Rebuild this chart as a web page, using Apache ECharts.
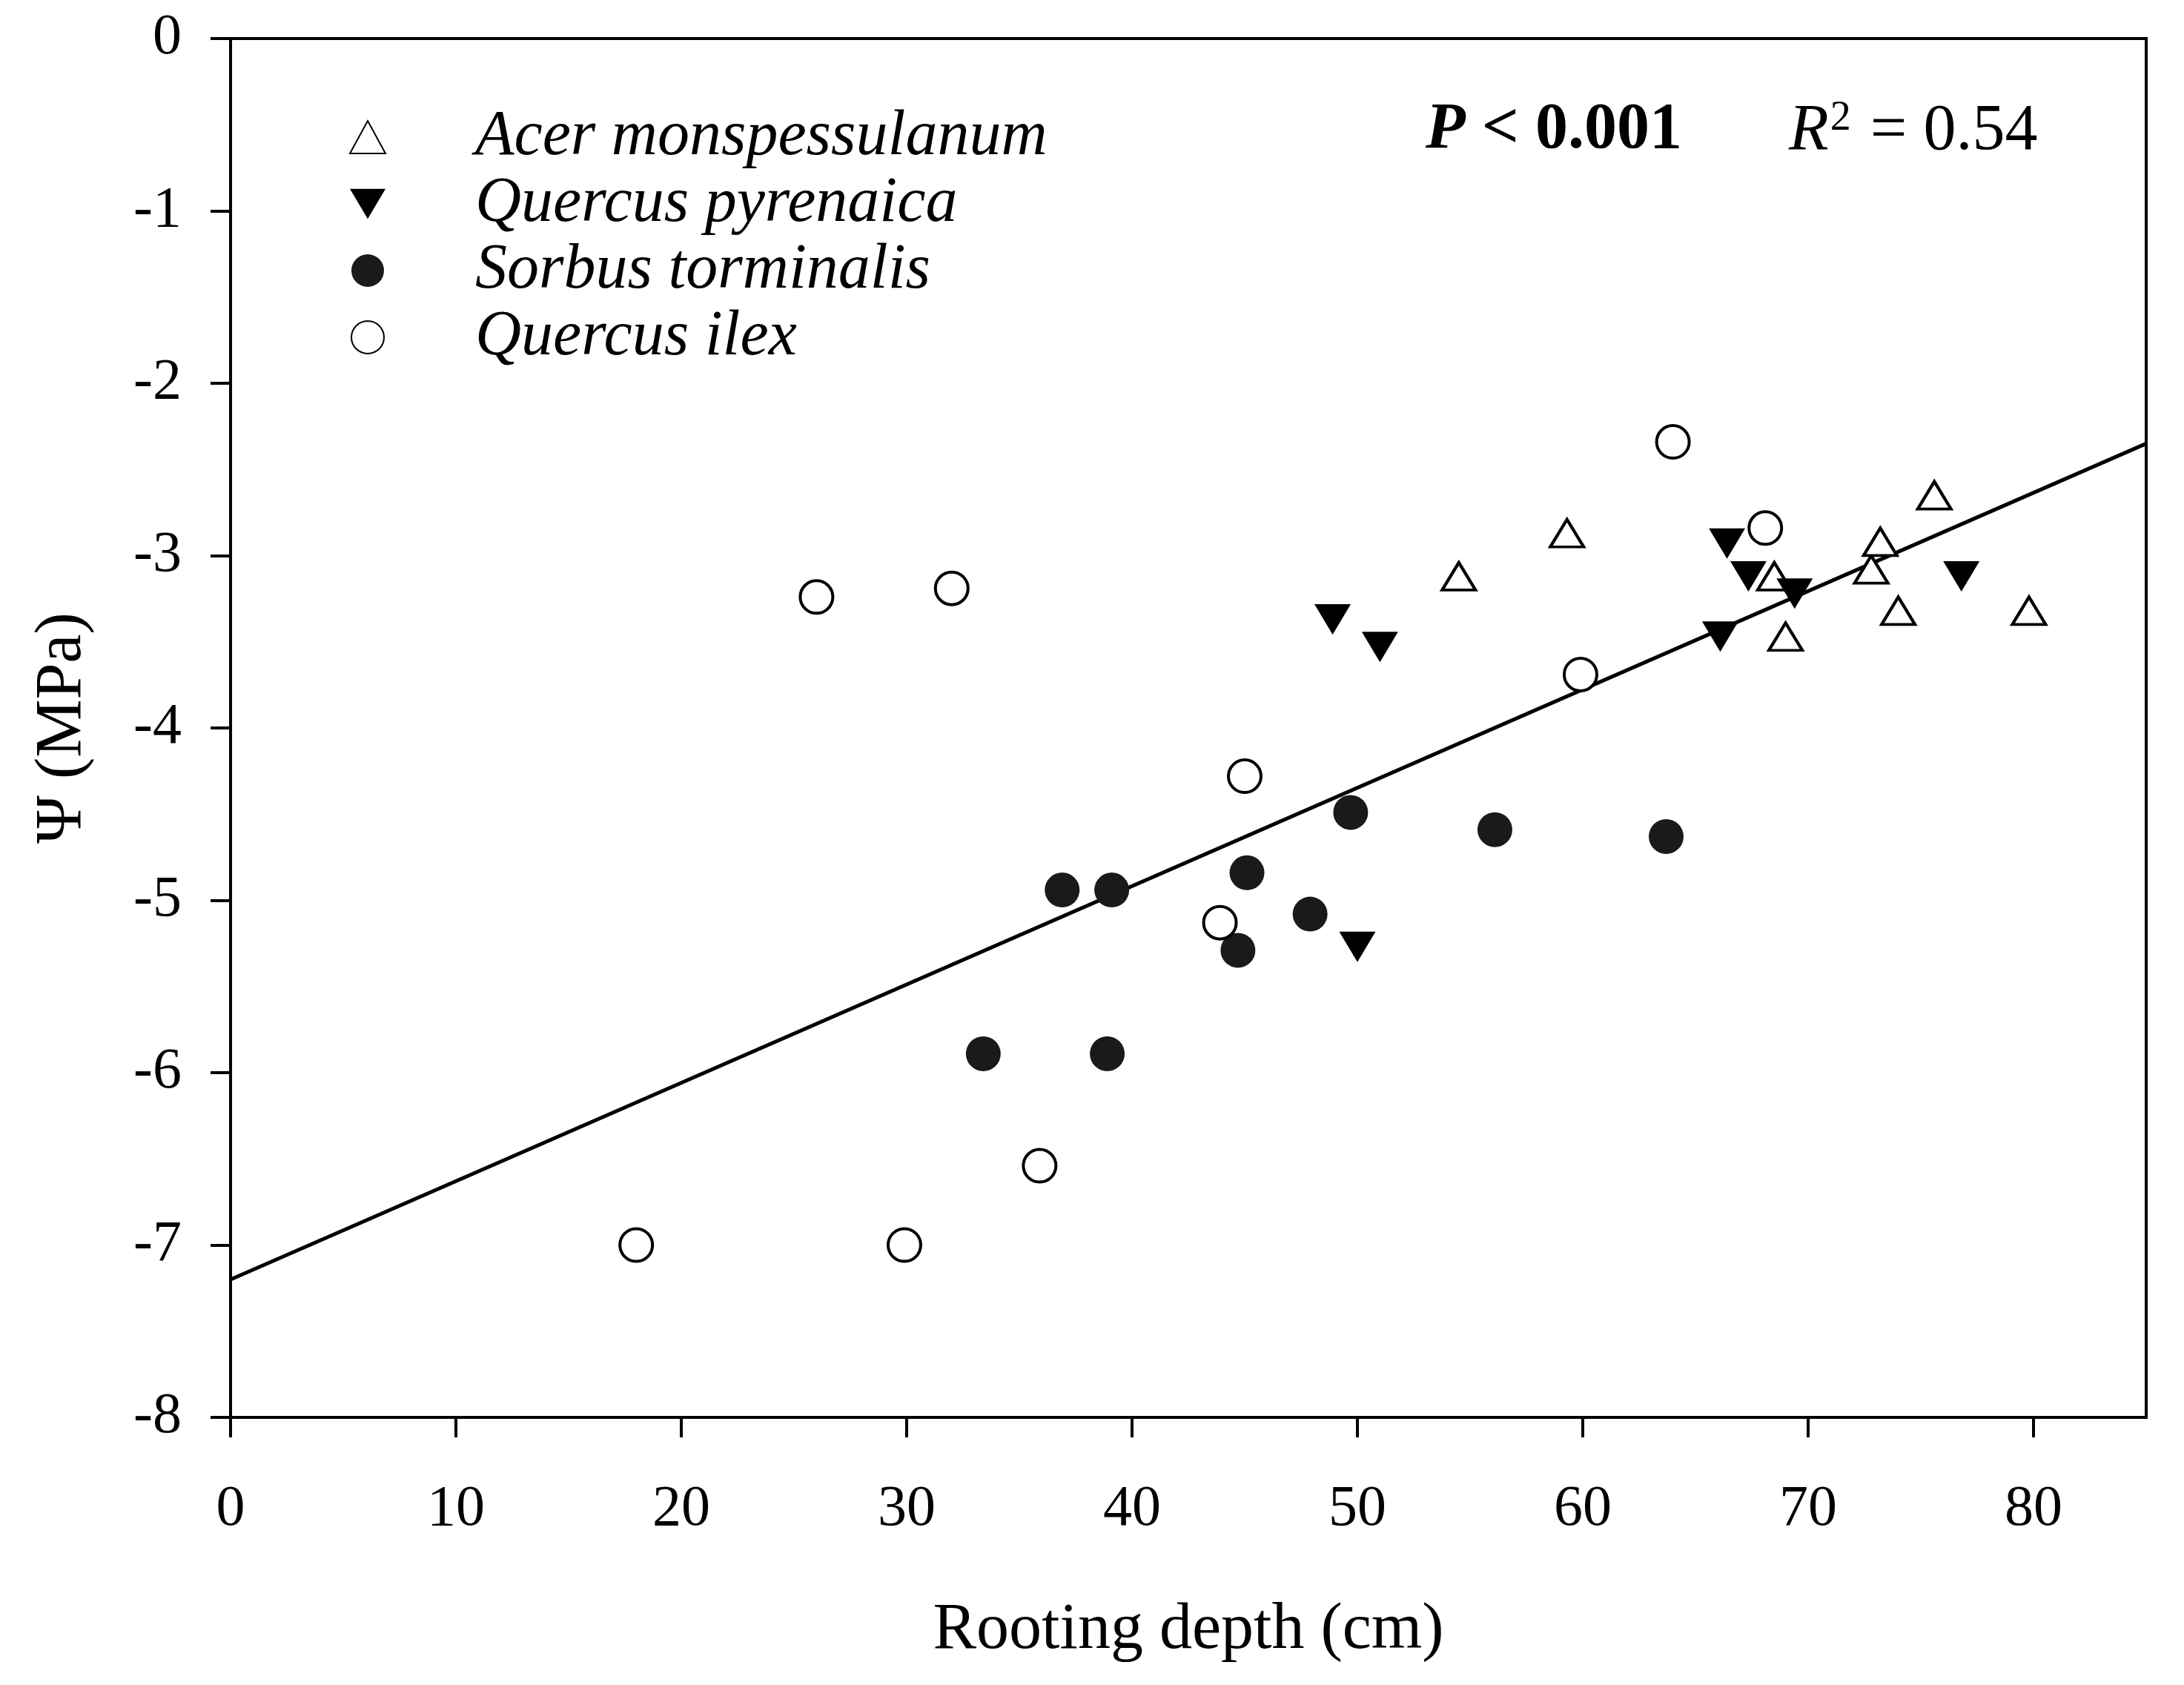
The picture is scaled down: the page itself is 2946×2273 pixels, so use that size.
<!DOCTYPE html>
<html>
<head>
	<meta charset="utf-8">
	<title>Rooting depth vs water potential</title>
	<script src="https://cdn.jsdelivr.net/npm/echarts@6/dist/echarts.min.js"></script>
	<style>
		html, body { margin: 0; padding: 0; background: #fff; }
	</style>
</head>
<body>
	<div id="chart" style="width: 2946px;height:2273px;"></div>
	<script type="text/javascript">
		// values: rooting depth (cm) and water potential (MPa)
		var speciesNames = ['Acer monspessulanum', 'Quercus pyrenaica', 'Sorbus torminalis', 'Quercus ilex'];

		var acerDepth = [54.5, 59.3, 68.5, 69.0, 72.8, 73.2, 74.0, 75.6, 79.8];
		var acerPsi   = [-3.12, -2.87, -3.12, -3.47, -3.08, -2.92, -3.32, -2.65, -3.32];

		var pyrDepth = [48.9, 51.0, 50.0, 66.4, 67.35, 69.4, 66.1, 76.8];
		var pyrPsi   = [-3.37, -3.53, -5.27, -2.93, -3.12, -3.22, -3.47, -3.12];

		var sorbDepth = [36.9, 39.1, 33.4, 38.9, 44.7, 45.1, 47.9, 49.7, 56.1, 63.7];
		var sorbPsi   = [-4.94, -4.94, -5.89, -5.89, -5.29, -4.84, -5.08, -4.49, -4.59, -4.63];

		var ilexDepth = [18.0, 29.9, 35.9, 26.0, 32.0, 45.0, 43.9, 59.9, 64.0, 68.1];
		var ilexPsi   = [-7.0, -7.0, -6.54, -3.24, -3.19, -4.28, -5.13, -3.69, -2.34, -2.84];

		// fitted regression line, end points
		var fitLine = [[0, -7.2], [85, -2.35]];

		var xTicks = [0, 10, 20, 30, 40, 50, 60, 70, 80];

		function zip(xs, ys) {
			var out = [];
			for (var i = 0; i < xs.length; i++) {
				out.push([xs[i], ys[i]]);
			}
			return out;
		}

		var font = 'Liberation Serif, Times New Roman, serif';
		var downTri = 'path://M0,0 L10,0 L5,8.4 Z';

		var myChart = echarts.init(document.getElementById('chart'));

		var option = {
			backgroundColor: '#fff',
			animation: false,
			grid: {
				left: 311,
				right: 51,
				top: 52,
				bottom: 361,
				show: true,
				borderColor: '#000',
				borderWidth: 4,
				backgroundColor: 'transparent'
			},
			legend: {
				data: speciesNames,
				orient: 'vertical',
				left: 466,
				top: 136,
				itemWidth: 48,
				itemHeight: 44,
				itemGap: 2,
				selectedMode: false,
				textStyle: {
					fontFamily: font,
					fontStyle: 'italic',
					fontSize: 86,
					lineHeight: 88,
					color: '#000',
					padding: [0, 0, 0, 116]
				}
			},
			xAxis: {
				type: 'value',
				min: 0,
				max: 85,
				interval: 10,
				name: 'Rooting depth (cm)',
				nameLocation: 'middle',
				nameGap: 244,
				nameTextStyle: { fontFamily: font, fontSize: 88, color: '#000' },
				splitLine: { show: false },
				axisLine: { onZero: false, lineStyle: { color: '#000', width: 4 } },
				axisTick: {
					show: true,
					inside: false,
					length: 27,
					customValues: xTicks,
					lineStyle: { color: '#000', width: 4 }
				},
				axisLabel: {
					customValues: xTicks,
					margin: 86,
					fontFamily: font,
					fontSize: 78,
					color: '#000'
				}
			},
			yAxis: {
				type: 'value',
				min: -8,
				max: 0,
				interval: 1,
				name: 'Ψ (MPa)',
				nameLocation: 'middle',
				nameRotate: 90,
				nameGap: 182,
				nameTextStyle: { fontFamily: font, fontSize: 88, color: '#000' },
				splitLine: { show: false },
				axisLine: { show: true, onZero: false, lineStyle: { color: '#000', width: 4 } },
				axisTick: {
					show: true,
					inside: false,
					length: 27,
					lineStyle: { color: '#000', width: 4 }
				},
				axisLabel: {
					margin: 66,
					fontFamily: font,
					fontSize: 78,
					color: '#000'
				}
			},
			graphic: [
				{
					type: 'text',
					left: 1923,
					top: 132,
					style: {
						text: '{p|P} {b|< 0.001}',
						rich: {
							p: { fontFamily: font, fontSize: 88, fontStyle: 'italic', fontWeight: 'bold', fill: '#000' },
							b: { fontFamily: font, fontSize: 88, fontWeight: 'bold', fill: '#000' }
						},
						fontFamily: font,
						fontSize: 88,
						fontWeight: 'bold',
						fill: '#000'
					}
				},
				{
					type: 'text',
					left: 2413,
					top: 132,
					style: {
						text: '{r|R}{s|2}{n| = 0.54}',
						rich: {
							r: { fontFamily: font, fontSize: 88, fontStyle: 'italic', fill: '#000', lineHeight: 90, verticalAlign: 'bottom' },
							s: { fontFamily: font, fontSize: 56, fill: '#000', lineHeight: 90, verticalAlign: 'top', padding: [0, 4, 22, 2] },
							n: { fontFamily: font, fontSize: 88, fill: '#000', lineHeight: 90, verticalAlign: 'bottom' }
						}
					}
				}
			],
			series: [
				{
					name: 'fit',
					type: 'line',
					data: fitLine,
					symbol: 'none',
					silent: true,
					lineStyle: { color: '#000', width: 5 },
					z: 1
				},
				{
					name: speciesNames[0],
					type: 'scatter',
					data: zip(acerDepth, acerPsi),
					symbol: 'triangle',
					symbolSize: [45, 37],
					itemStyle: { color: '#fff', borderColor: '#000', borderWidth: 4, opacity: 1 },
					z: 3
				},
				{
					name: speciesNames[1],
					type: 'scatter',
					data: zip(pyrDepth, pyrPsi),
					symbol: downTri,
					symbolSize: [49, 41],
					itemStyle: { color: '#000', borderColor: '#000', borderWidth: 0, opacity: 1 },
					z: 3
				},
				{
					name: speciesNames[2],
					type: 'scatter',
					data: zip(sorbDepth, sorbPsi),
					symbol: 'circle',
					symbolSize: 47,
					itemStyle: { color: '#1a1a1a', borderColor: '#1a1a1a', borderWidth: 0, opacity: 1 },
					z: 3
				},
				{
					name: speciesNames[3],
					type: 'scatter',
					data: zip(ilexDepth, ilexPsi),
					symbol: 'circle',
					symbolSize: 44,
					itemStyle: { color: '#fff', borderColor: '#000', borderWidth: 4, opacity: 1 },
					z: 3
				}
			]
		};

		myChart.setOption(option);
	</script>
</body>
</html>
